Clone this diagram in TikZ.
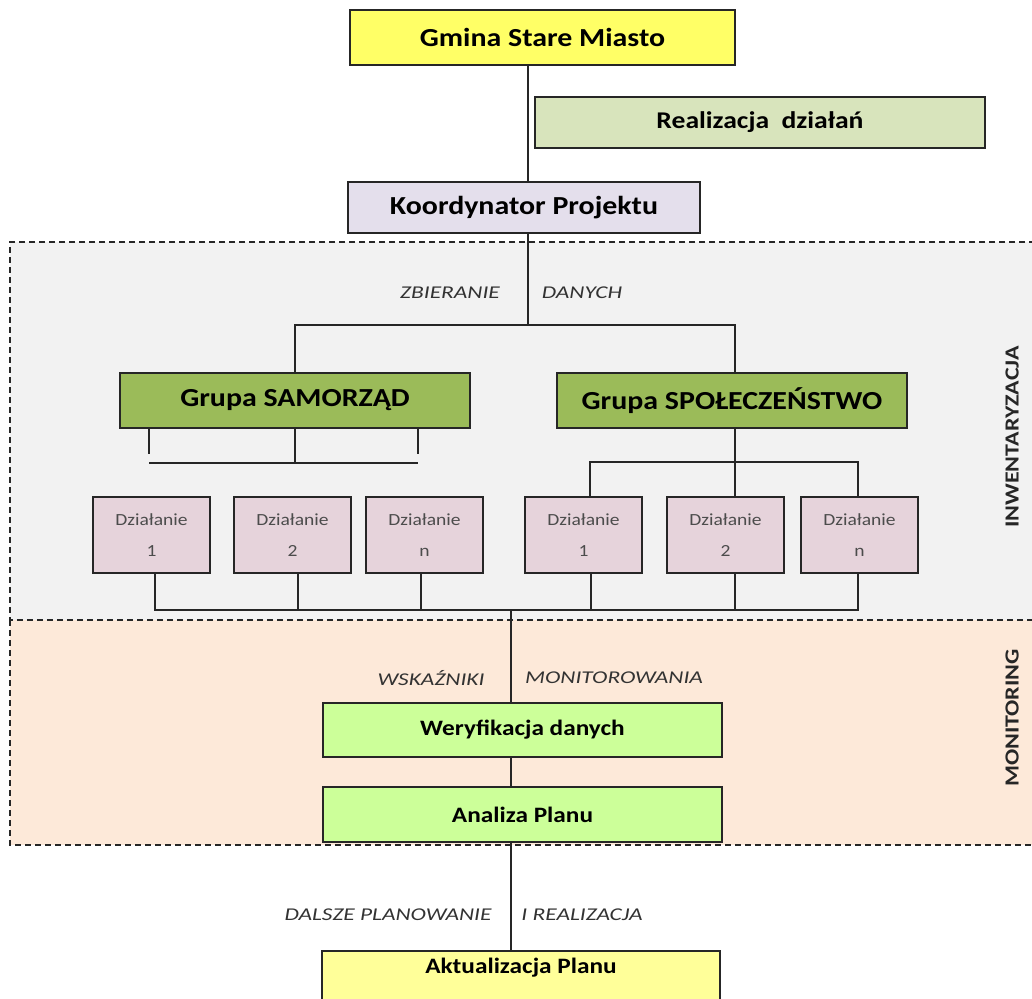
\documentclass[tikz,border=0pt]{standalone}
\usepackage{fontspec}
\setmainfont{Carlito}[FakeStretch=1.15]
\newfontfamily\lblfont{Carlito}[FakeStretch=1.3]
\newfontfamily\sidefont{Carlito}[FakeStretch=1.2]
\usetikzlibrary{calc}
\definecolor{cGmina}{HTML}{FFFF66}
\definecolor{cReal}{HTML}{D8E4BC}
\definecolor{cKoord}{HTML}{E4DFEC}
\definecolor{cInw}{HTML}{F2F2F2}
\definecolor{cGrupa}{HTML}{9BBB59}
\definecolor{cDz}{HTML}{E6D3DB}
\definecolor{cMon}{HTML}{FDE9D9}
\definecolor{cWer}{HTML}{CCFF99}
\definecolor{cAkt}{HTML}{FFFF99}
\definecolor{cLine}{HTML}{262626}
\tikzset{
  box/.style={draw=cLine, line width=1.8pt, inner sep=0pt, font=\bfseries\fontsize{26}{28}\selectfont},
  dzbox/.style={draw=cLine, line width=1.8pt, fill=cDz, inner sep=0pt, minimum width=117pt, minimum height=76pt, align=center, font=\fontsize{17}{31}\selectfont\color{black!70}},
  conn/.style={draw=cLine, line width=1.8pt},
  region/.style={draw=cLine, line width=1.4pt, dash pattern=on 6pt off 4pt},
  lbl/.style={font=\lblfont\itshape\fontsize{18}{20}\selectfont, text=black!80, inner sep=0pt},
  side/.style={font=\sidefont\bfseries\fontsize{20}{22}\selectfont, text=black!85, rotate=90, inner sep=0pt}
}
\begin{document}
\begin{tikzpicture}[x=1pt,y=-1pt]
\useasboundingbox (0,0) rectangle (1032,998);
% regions
\begin{scope}
\clip (0,0) rectangle (1032,998);
\fill[cInw] (10,242) rectangle (1045,620);
\fill[cMon] (10,620) rectangle (1045,845);
\draw[region] (1045,242) -- (10,242) -- (10,620) -- (1045,620);
\draw[region] (10,620) -- (10,845) -- (1045,845);
\end{scope}
\node[side] (inw) at (1012,437) {INWENTARYZACJA};
\node[side] (mon) at (1012,718) {MONITORING};
% top
\node[box, fill=cGmina, minimum width=385pt, minimum height=55pt] (gmina) at (542.5,37.5) {Gmina Stare Miasto};
\node[box, fill=cReal, minimum width=450pt, minimum height=51pt, font=\bfseries\fontsize{24}{26}\selectfont] (real) at (760,122.5) {Realizacja\ \ działań};
\node[box, fill=cKoord, minimum width=352pt, minimum height=51pt] (koord) at (524,207.5) {Koordynator Projektu};
\coordinate (spine) at (528,0);
\draw[conn] (gmina.south -| spine) -- (koord.north -| spine);
% groups
\node[box, fill=cGrupa, minimum width=350pt, minimum height=55pt] (samo) at (295,400.5) {Grupa SAMORZĄD};
\node[box, fill=cGrupa, minimum width=350pt, minimum height=55pt] (spol) at (732,400.5) {Grupa SPOŁECZEŃSTWO};
\coordinate (br) at (528,325);
\draw[conn] (koord.south -| spine) -- (br);
\draw[conn] (samo.north) |- (br) -| ($(spol.north)+(3,0)$);
\node[lbl] (zb) at (450,293) {ZBIERANIE};
\node[lbl] (dan) at (582,293) {DANYCH};
% dzialanie
\node[dzbox] (d1) at (151.5,535) {Działanie\\1};
\node[dzbox] (d2) at (292.5,535) {Działanie\\2};
\node[dzbox] (d3) at (424.5,535) {Działanie\\n};
\node[dzbox] (e1) at (583.5,535) {Działanie\\1};
\node[dzbox] (e2) at (725.5,535) {Działanie\\2};
\node[dzbox] (e3) at (859.5,535) {Działanie\\n};
% under samorzad
\coordinate (sl) at ($(samo.south west)+(30,0)$);
\coordinate (sr) at ($(samo.south west)+(299,0)$);
\draw[conn] (sl) -- ++(0,25);
\draw[conn] (sr) -- ++(0,25);
\draw[conn] (samo.south) -- ++(0,34);
\draw[conn] ($(sl)+(0,34)$) -- ($(sr)+(0,34)$);
% under spoleczenstwo
\coordinate (rb) at (0,462);
\draw[conn] ($(spol.south)+(3,0)$) -- ($(spol.south |- e2.north)+(3,0)$);
\draw[conn] ($(e1.north)+(6.5,0)$) |- ($(e3.north |- rb)+(-1.5,0)$) -- ($(e3.north)+(-1.5,0)$);
% bottom bar
\coordinate (bb) at (0,610);
\draw[conn] ($(d1.south)+(3.5,0)$) |- ($(e3.south |- bb)+(-1.5,0)$) -- ($(e3.south)+(-1.5,0)$);
\draw[conn] ($(d2.south)+(5.5,0)$) -- ($(d2.south |- bb)+(5.5,0)$);
\draw[conn] ($(d3.south)+(-3.5,0)$) -- ($(d3.south |- bb)+(-3.5,0)$);
\draw[conn] ($(e1.south)+(7.5,0)$) -- ($(e1.south |- bb)+(7.5,0)$);
\draw[conn] ($(e2.south)+(9.5,0)$) -- ($(e2.south |- bb)+(9.5,0)$);
% monitoring
\node[box, fill=cWer, minimum width=399pt, minimum height=54pt, font=\bfseries\fontsize{22}{24}\selectfont] (wer) at (522.5,730) {Weryfikacja danych};
\node[box, fill=cWer, minimum width=399pt, minimum height=55pt, font=\bfseries\fontsize{22}{24}\selectfont] (anal) at (522.5,814.5) {Analiza Planu};
\coordinate (sp2) at (511,610);
\draw[conn] (sp2) -- (sp2 |- wer.north);
\draw[conn] (sp2 |- wer.south) -- (sp2 |- anal.north);
\node[lbl] (wsk) at (431,678) {WSKAŹNIKI};
\node[lbl] (mno) at (614,678) {MONITOROWANIA};
% bottom
\node[box, fill=cAkt, minimum width=398pt, minimum height=60pt, anchor=north] (akt) at (521,950) {};
\node[font=\bfseries\fontsize{22}{24}\selectfont, inner sep=0pt] (akttxt) at (521,968) {Aktualizacja Planu};
\draw[conn] (sp2 |- anal.south) -- (sp2 |- akt.north);
\node[lbl] (dal) at (388,915) {DALSZE PLANOWANIE};
\node[lbl] (ire) at (582,915) {I REALIZACJA};
\end{tikzpicture}
\end{document}
